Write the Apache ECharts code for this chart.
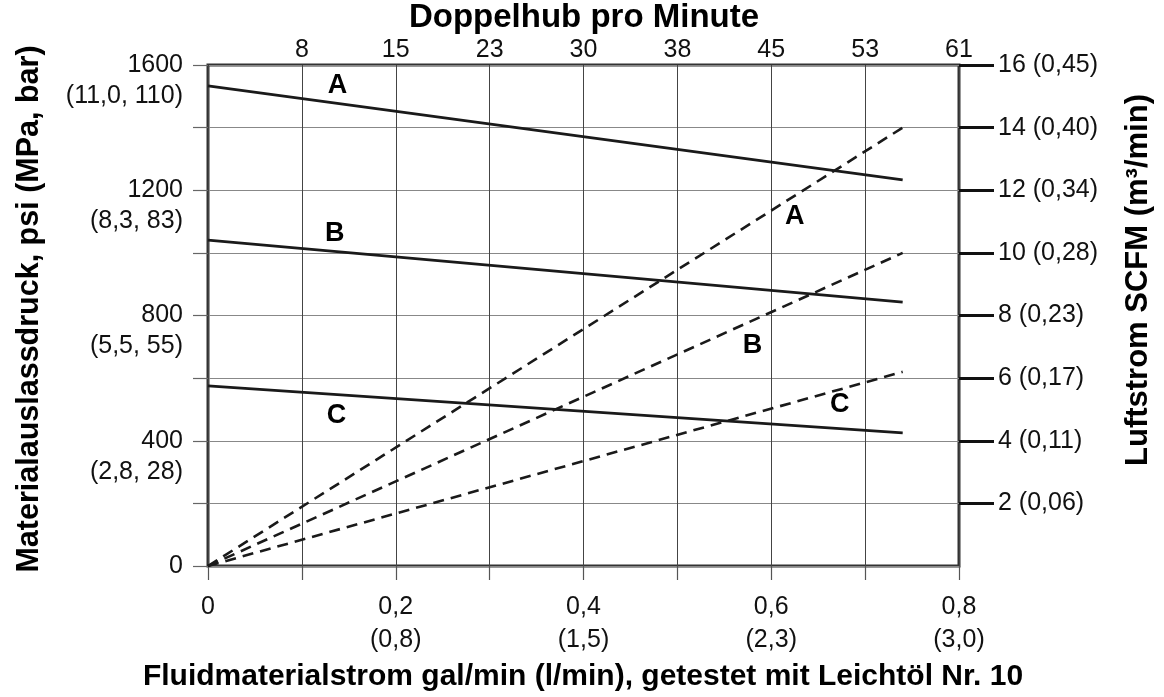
<!DOCTYPE html>
<html>
<head>
<meta charset="utf-8">
<script src="https://cdn.jsdelivr.net/npm/echarts@6/dist/echarts.min.js"></script>
<style>
  html, body { margin: 0; padding: 0; background: #fff; }
  #chart { width: 1164px; height: 697px; }
</style>
</head>
<body>
<div id="chart"></div>
<script>
// Daten
var flow = [0, 0.74];                 // gal/min
var pressureA = [1533, 1233];         // psi
var pressureB = [1041, 843];
var pressureC = [575, 425];
var airA = [0, 14];                   // SCFM
var airB = [0, 10];
var airC = [0, 6.2];

var bottomTickLabels = ['0', '0,2\n(0,8)', '0,4\n(1,5)', '0,6\n(2,3)', '0,8\n(3,0)'];
var topTickLabels = ['', '8', '15', '23', '30', '38', '45', '53', '61'];
var leftTickLabels = ['0', '400\n(2,8, 28)', '800\n(5,5, 55)', '1200\n(8,3, 83)', '1600\n(11,0, 110)'];
var rightTicks = [2, 4, 6, 8, 10, 12, 14, 16];
var rightTickLabels = ['', '2 (0,06)', '4 (0,11)', '6 (0,17)', '8 (0,23)', '10 (0,28)', '12 (0,34)', '14 (0,40)', '16 (0,45)'];

// Beschriftung der Kurven (x, Wert, Text)
var pressureLabels = [[0.138, 1533, 'A'], [0.135, 1063, 'B'], [0.137, 482, 'C']];
var airLabels = [[0.625, 11.15, 'A'], [0.58, 7.05, 'B'], [0.673, 5.15, 'C']];

var FONT = '"Liberation Sans", Arial, sans-serif';

function pairs(xs, ys) {
  return xs.map(function (x, i) { return [x, ys[i]]; });
}

var chart = echarts.init(document.getElementById('chart'));

var solidStyle = { color: '#1a1a1a', width: 2.8, type: 'solid' };
var dashStyle = { color: '#1a1a1a', width: 2.6, type: [11, 7] };

function lineSeries(data, yIdx, style) {
  return {
    type: 'line', xAxisIndex: 0, yAxisIndex: yIdx,
    data: data, symbol: 'none', silent: true,
    lineStyle: style, z: 3
  };
}

function labelSeries(data, yIdx) {
  return {
    type: 'scatter', xAxisIndex: 0, yAxisIndex: yIdx,
    data: data, symbolSize: 0, silent: true, z: 4,
    itemStyle: { opacity: 1 },
    label: {
      show: true, position: 'inside',
      formatter: function (p) { return p.value[2]; },
      fontFamily: FONT, fontSize: 27, fontWeight: 'bold', color: '#000',
      textBorderWidth: 0, opacity: 1
    }
  };
}

var option = {
  backgroundColor: '#fff',
  animation: false,
  grid: {
    left: 208, right: 205, top: 65, bottom: 131,
    show: true, borderColor: '#333', borderWidth: 3, backgroundColor: 'transparent'
  },
  xAxis: [
    {
      type: 'value', position: 'bottom', min: 0, max: 0.8, interval: 0.1,
      axisLine: { show: false, onZero: false },
      axisTick: { show: true, length: 14, lineStyle: { color: '#555', width: 1.2 } },
      splitLine: { show: true, lineStyle: { color: '#444', width: 1 } },
      axisLabel: {
        margin: 25, fontFamily: FONT, fontSize: 25, color: '#111', lineHeight: 33,
        formatter: function (v) {
          var i = Math.round(v * 10);
          return i % 2 === 0 ? bottomTickLabels[i / 2] : '';
        }
      }
    },
    {
      type: 'value', position: 'top', min: 0, max: 0.8, interval: 0.1,
      axisLine: { show: false, onZero: false },
      axisTick: { show: false },
      splitLine: { show: false },
      axisLabel: {
        margin: 2, fontFamily: FONT, fontSize: 25, color: '#111',
        formatter: function (v) { return topTickLabels[Math.round(v * 10)]; }
      }
    }
  ],
  yAxis: [
    {
      type: 'value', position: 'left', min: 0, max: 1600, interval: 200,
      axisLine: { show: false, onZero: false },
      axisTick: { show: true, length: 15, lineStyle: { color: '#666', width: 1.2 } },
      splitLine: { show: true, lineStyle: { color: '#888', width: 1 } },
      axisLabel: {
        margin: 25, fontFamily: FONT, fontSize: 25, color: '#111', lineHeight: 31, align: 'right',
        formatter: function (v) {
          if (v % 400 !== 0) return '';
          var s = leftTickLabels[v / 400];
          return v === 0 ? s : '\n' + s;
        }
      }
    },
    {
      type: 'value', position: 'right', min: 0, max: 16, interval: 2,
      axisLine: { show: false, onZero: false },
      axisTick: { show: true, length: 35, customValues: rightTicks, lineStyle: { color: '#111', width: 3 } },
      splitLine: { show: false },
      axisLabel: {
        margin: 39, fontFamily: FONT, fontSize: 25, color: '#111',
        formatter: function (v) { return rightTickLabels[Math.round(v / 2)]; }
      }
    }
  ],
  series: [
    lineSeries(pairs(flow, pressureA), 0, solidStyle),
    lineSeries(pairs(flow, pressureB), 0, solidStyle),
    lineSeries(pairs(flow, pressureC), 0, solidStyle),
    lineSeries(pairs(flow, airA), 1, dashStyle),
    lineSeries(pairs(flow, airB), 1, dashStyle),
    lineSeries(pairs(flow, airC), 1, dashStyle),
    labelSeries(pressureLabels, 0),
    labelSeries(airLabels, 1)
  ],
  graphic: [
    {
      type: 'text', x: 584, y: 18,
      style: { text: 'Doppelhub pro Minute', font: 'bold 33px ' + FONT, fill: '#000', align: 'center', verticalAlign: 'middle' }
    },
    {
      type: 'text', x: 583, y: 677,
      style: { text: 'Fluidmaterialstrom gal/min (l/min), getestet mit Leichtöl Nr. 10', font: 'bold 30px ' + FONT, fill: '#000', align: 'center', verticalAlign: 'middle' }
    },
    {
      type: 'text', x: 30, y: 309, rotation: Math.PI / 2,
      style: { text: 'Materialauslassdruck, psi (MPa, bar)', font: 'bold 30.5px ' + FONT, fill: '#000', align: 'center', verticalAlign: 'middle' }
    },
    {
      type: 'text', x: 1138, y: 280, rotation: Math.PI / 2,
      style: { text: 'Luftstrom SCFM (m³/min)', font: 'bold 31px ' + FONT, fill: '#000', align: 'center', verticalAlign: 'middle' }
    }
  ]
};

chart.setOption(option);
</script>
</body>
</html>
